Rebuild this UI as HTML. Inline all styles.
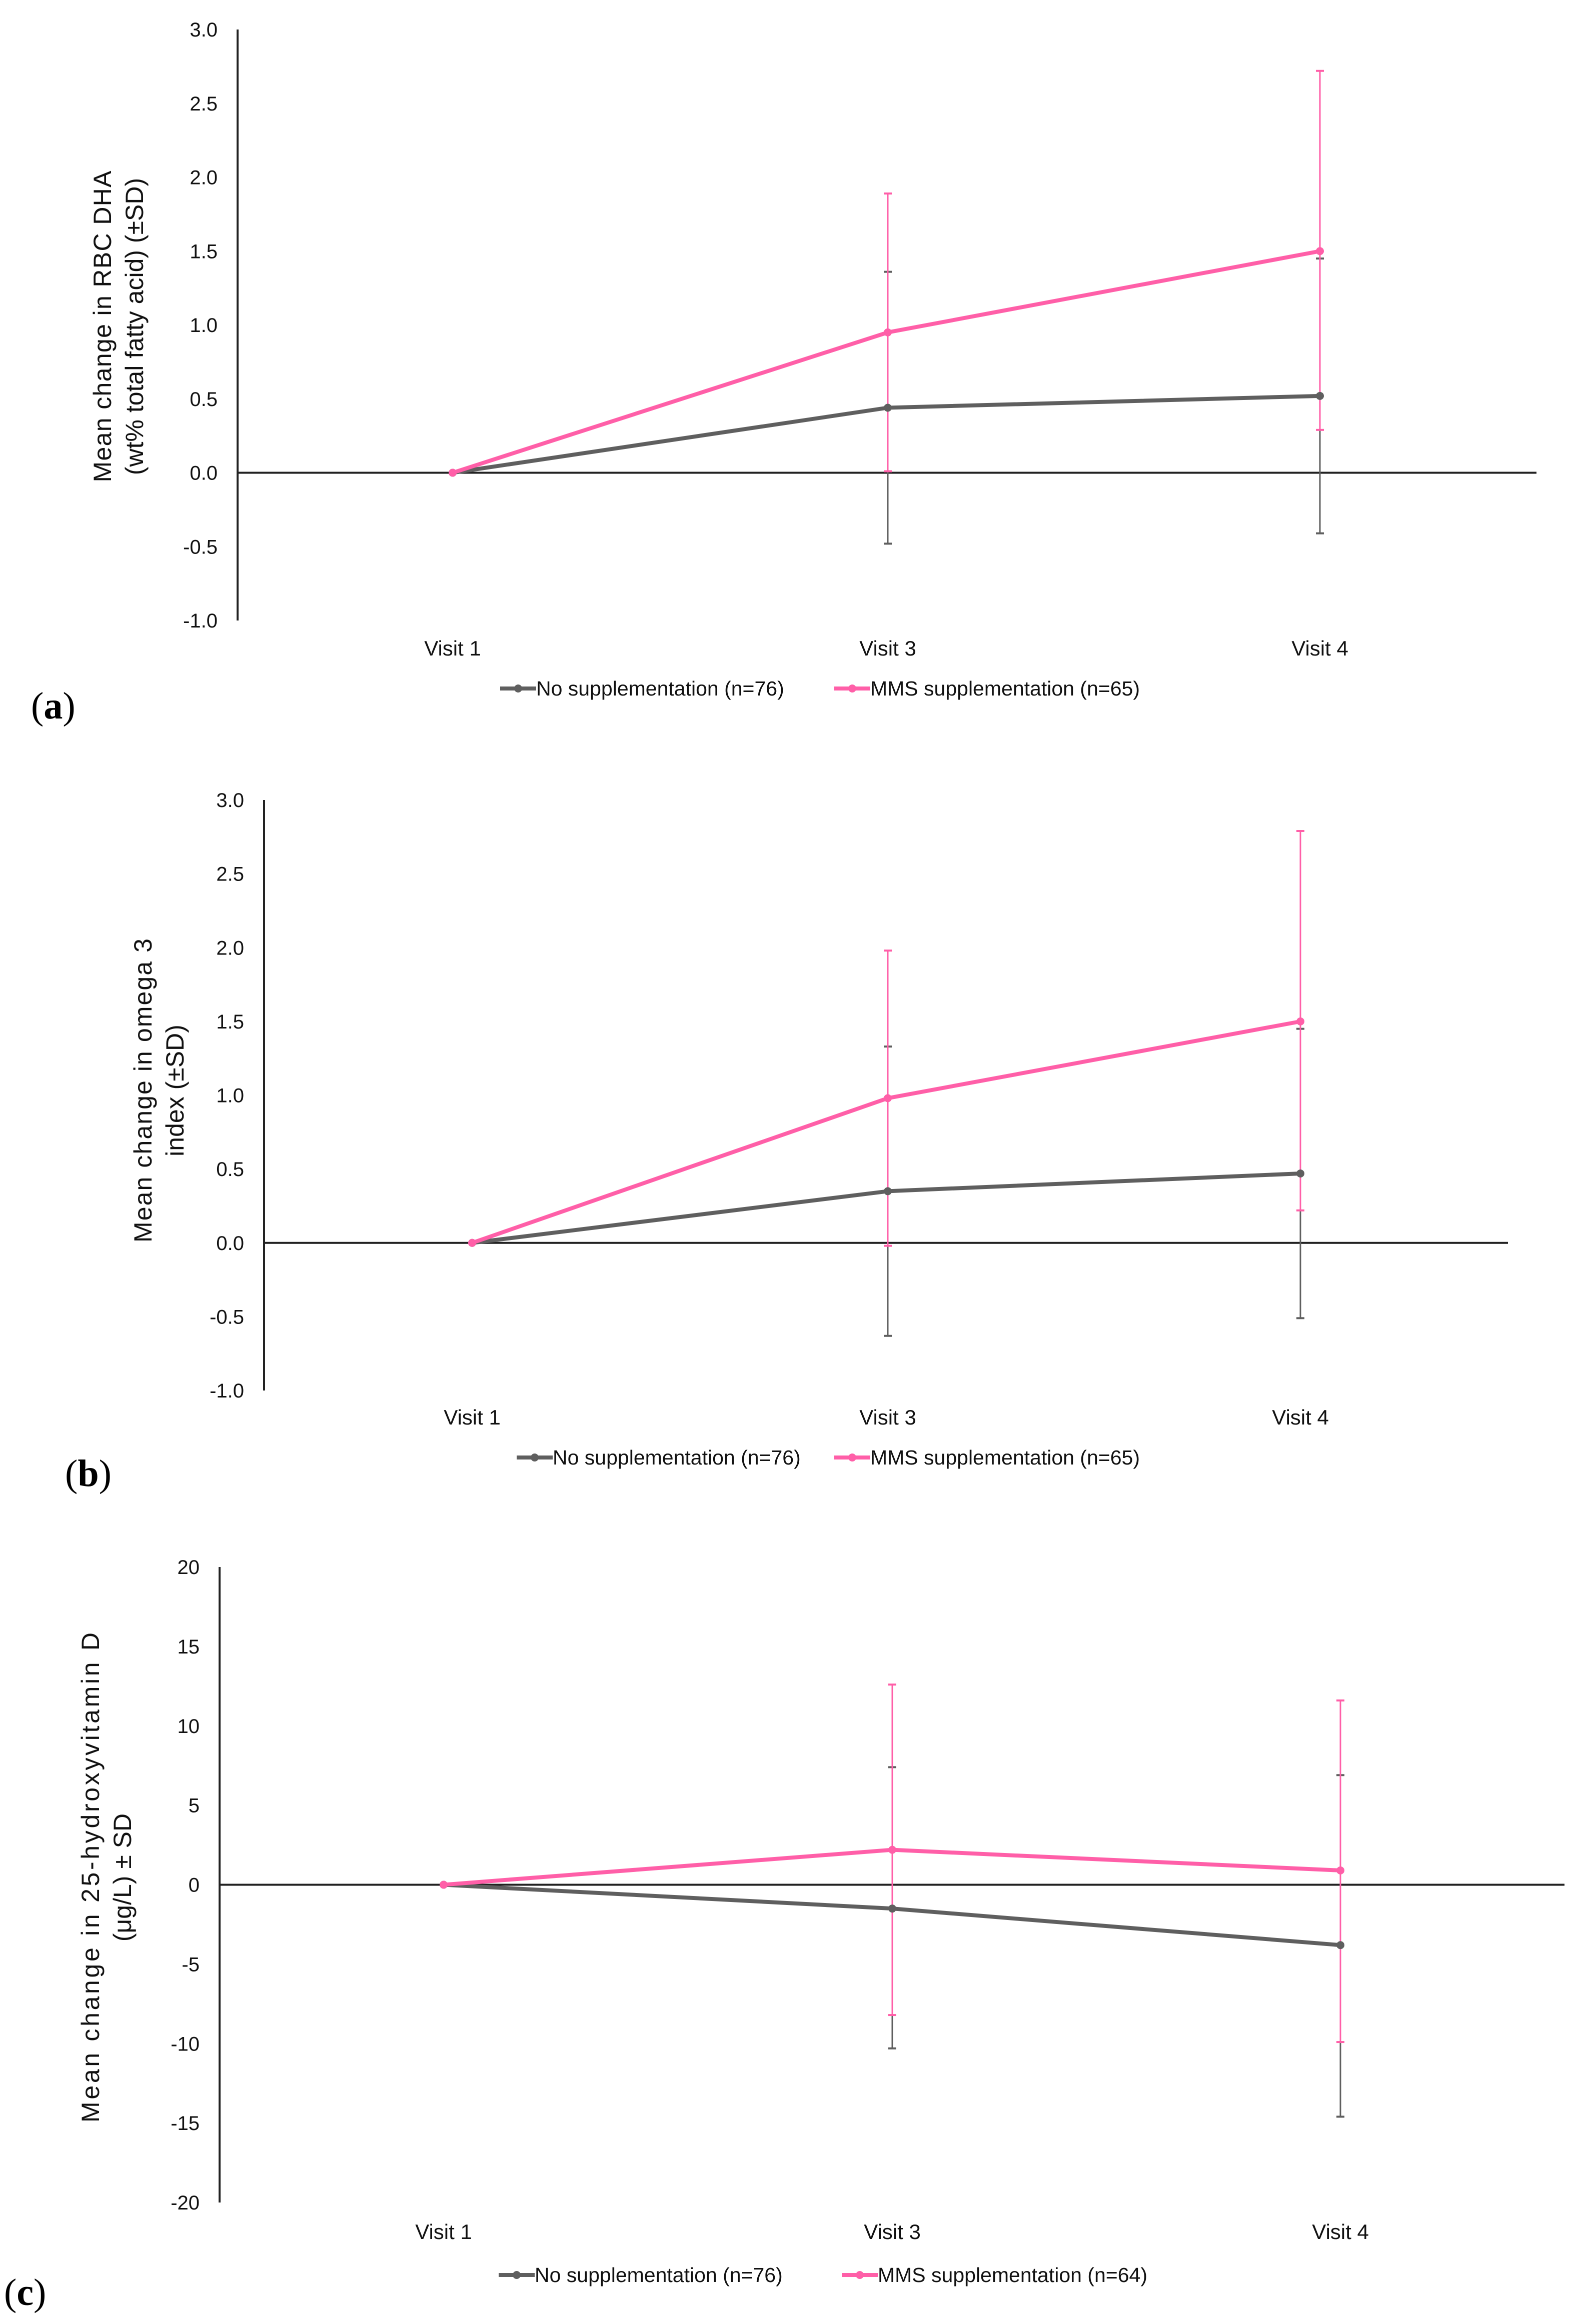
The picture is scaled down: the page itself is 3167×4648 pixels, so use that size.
<!DOCTYPE html>
<html><head><meta charset="utf-8">
<style>
html,body{margin:0;padding:0;background:#fff;}
svg{display:block;}
text{font-family:"Liberation Sans",sans-serif;}
text.lab{font-family:"Liberation Serif",serif;}
</style></head>
<body>
<svg id="fig" width="3167" height="4648" viewBox="0 0 3167 4648" xmlns="http://www.w3.org/2000/svg"></svg>
<script>
// Panel (a) data
const visits = ["Visit 1","Visit 3","Visit 4"];
const aNoMean = [0, 0.44, 0.52];
const aNoHi = [0, 1.36, 1.45];
const aNoLo = [0, -0.48, -0.41];
const aMmsMean = [0, 0.95, 1.50];
const aMmsHi = [0, 1.89, 2.72];
const aMmsLo = [0, 0.01, 0.29];
const aTicks = [3.0, 2.5, 2.0, 1.5, 1.0, 0.5, 0.0, -0.5, -1.0];
// Panel (b) data
const bNoMean = [0, 0.35, 0.47];
const bNoHi = [0, 1.33, 1.45];
const bNoLo = [0, -0.63, -0.51];
const bMmsMean = [0, 0.98, 1.50];
const bMmsHi = [0, 1.98, 2.79];
const bMmsLo = [0, -0.02, 0.22];
const bTicks = [3.0, 2.5, 2.0, 1.5, 1.0, 0.5, 0.0, -0.5, -1.0];
// Panel (c) data
const cNoMean = [0, -1.5, -3.8];
const cNoHi = [0, 7.4, 6.9];
const cNoLo = [0, -10.3, -14.6];
const cMmsMean = [0, 2.2, 0.9];
const cMmsHi = [0, 12.6, 11.6];
const cMmsLo = [0, -8.2, -9.9];
const cTicks = [20, 15, 10, 5, 0, -5, -10, -15, -20];

const NS = "http://www.w3.org/2000/svg";
const svg = document.getElementById("fig");
const GRAY = "#5f5f5f", PINK = "#ff5fa8";
function el(tag, attrs, parent, txt){
  const e = document.createElementNS(NS, tag);
  for (const k in attrs) e.setAttribute(k, attrs[k]);
  if (txt !== undefined) e.textContent = txt;
  (parent || svg).appendChild(e);
  return e;
}

function panel(cfg){
  const g = el("g", {});
  
  
  const y = v => cfg.yTop + (cfg.max - v) / (cfg.max - cfg.min) * (cfg.yBot - cfg.yTop);
  const x = i => cfg.xs[i];
  const ax = el("line", {x1:cfg.axX, y1:cfg.yTop, x2:cfg.axX, y2:cfg.yBot, stroke:"#222", "stroke-width":4}, g);
  
  
  const zl = el("line", {x1:cfg.axX, y1:y(0), x2:cfg.zeroEnd, y2:y(0), stroke:"#222", "stroke-width":4}, g);
  
  
  cfg.ticks.forEach(t => {
    const tx = el("text", {x:cfg.axX - 40, y:y(t) + 14, "text-anchor":"end", "font-size":40, fill:"#111"}, g, cfg.fmt(t));
    
    
  });
  const tt = el("text", {transform:`translate(${cfg.titleX},${cfg.titleY}) rotate(-90)`, "text-anchor":"middle", "font-size":50, fill:"#111"}, g);
  
  
  cfg.title.forEach((line, i) => {
    const a = {x:0, dy: i === 0 ? 0 : 64};
    if (cfg.titleLen[i]) { a.textLength = cfg.titleLen[i]; a.lengthAdjust = "spacing"; }
    el("tspan", a, tt, line);
  });
  visits.forEach((v, i) => {
    const xl = el("text", {x:x(i), y:cfg.xLabY, "text-anchor":"middle", "font-size":42, fill:"#111"}, g, v);
    
    
  });
  const series = [
    {name:"no-supplementation", col:GRAY, m:cfg.noM, hi:cfg.noH, lo:cfg.noL, w:8},
    {name:"mms-supplementation", col:PINK, m:cfg.mM, hi:cfg.mH, lo:cfg.mL, w:8}
  ];
  series.forEach(s => {
    const sg = el("g", {}, g);
    
    
    s.m.forEach((v, i) => {
      if (i === 0) return;
      const eb = el("line", {x1:x(i), y1:y(s.hi[i]), x2:x(i), y2:y(s.lo[i]), stroke:s.col, "stroke-width":3}, sg);
      
      
      [s.hi[i], s.lo[i]].forEach(c => {
        const cap = el("line", {x1:x(i)-8, y1:y(c), x2:x(i)+8, y2:y(c), stroke:s.col, "stroke-width":4}, sg);
        
        
      });
    });
  });
  series.forEach(s => {
    const pts = s.m.map((v, i) => x(i) + "," + y(v)).join(" ");
    const pl = el("polyline", {points:pts, fill:"none", stroke:s.col, "stroke-width":s.w, "stroke-linejoin":"round"}, g);
    
    
    s.m.forEach((v, i) => {
      const c = el("circle", {cx:x(i), cy:y(v), r:8, fill:s.col}, g);
      
      
    });
  });
  const lg = el("g", {}, g);
  
  
  cfg.legend.forEach(L => {
    const eg = el("g", {}, lg);
    
    
    el("line", {x1:L.x, y1:cfg.legY, x2:L.x + 72, y2:cfg.legY, stroke:L.col, "stroke-width":8}, eg);
    el("circle", {cx:L.x + 36, cy:cfg.legY, r:8, fill:L.col}, eg);
    el("text", {x:L.x + 72, y:cfg.legY + 14, "font-size":41, fill:"#111"}, eg, L.t);
  });
  const lab = el("text", {x:cfg.labX, y:cfg.labY, "font-size":76, fill:"#000", "class":"lab"}, g);
  
  
  el("tspan", {}, lab, "(");
  el("tspan", {"font-weight":"bold"}, lab, cfg.letter);
  el("tspan", {}, lab, ")");
}

const f1 = t => t.toFixed(1);
panel({name:"panel-a-chart", max:3, min:-1, yTop:59, yBot:1241, axX:475, zeroEnd:3072, xs:[905,1775,2639],
  ticks:aTicks, fmt:f1, title:["Mean change in RBC DHA","(wt% total fatty acid) (±SD)"], titleLen:[623,0], titleX:222, titleY:653,
  xLabY:1311, noM:aNoMean, noH:aNoHi, noL:aNoLo, mM:aMmsMean, mH:aMmsHi, mL:aMmsLo, legY:1377,
  legend:[{x:1000,col:GRAY,t:"No supplementation (n=76)"},{x:1668,col:PINK,t:"MMS supplementation (n=65)"}],
  labX:62, labY:1437, letter:"a"});
panel({name:"panel-b-chart", max:3, min:-1, yTop:1600, yBot:2781, axX:528, zeroEnd:3015, xs:[944,1775,2600],
  ticks:bTicks, fmt:f1, title:["Mean change in omega 3","index (±SD)"], titleLen:[608,0], titleX:303, titleY:2181,
  xLabY:2849, noM:bNoMean, noH:bNoHi, noL:bNoLo, mM:bMmsMean, mH:bMmsHi, mL:bMmsLo, legY:2915,
  legend:[{x:1033,col:GRAY,t:"No supplementation (n=76)"},{x:1668,col:PINK,t:"MMS supplementation (n=65)"}],
  labX:130, labY:2972, letter:"b"});
panel({name:"panel-c-chart", max:20, min:-20, yTop:3134, yBot:4405, axX:439, zeroEnd:3128, xs:[887,1784,2680],
  ticks:cTicks, fmt:t => String(t), title:["Mean change in 25-hydroxyvitamin D","(μg/L) ± SD"], titleLen:[980,0], titleX:198, titleY:3755,
  xLabY:4478, noM:cNoMean, noH:cNoHi, noL:cNoLo, mM:cMmsMean, mH:cMmsHi, mL:cMmsLo, legY:4550,
  legend:[{x:997,col:GRAY,t:"No supplementation (n=76)"},{x:1683,col:PINK,t:"MMS supplementation (n=64)"}],
  labX:8, labY:4610, letter:"c"});
</script>
</body></html>
